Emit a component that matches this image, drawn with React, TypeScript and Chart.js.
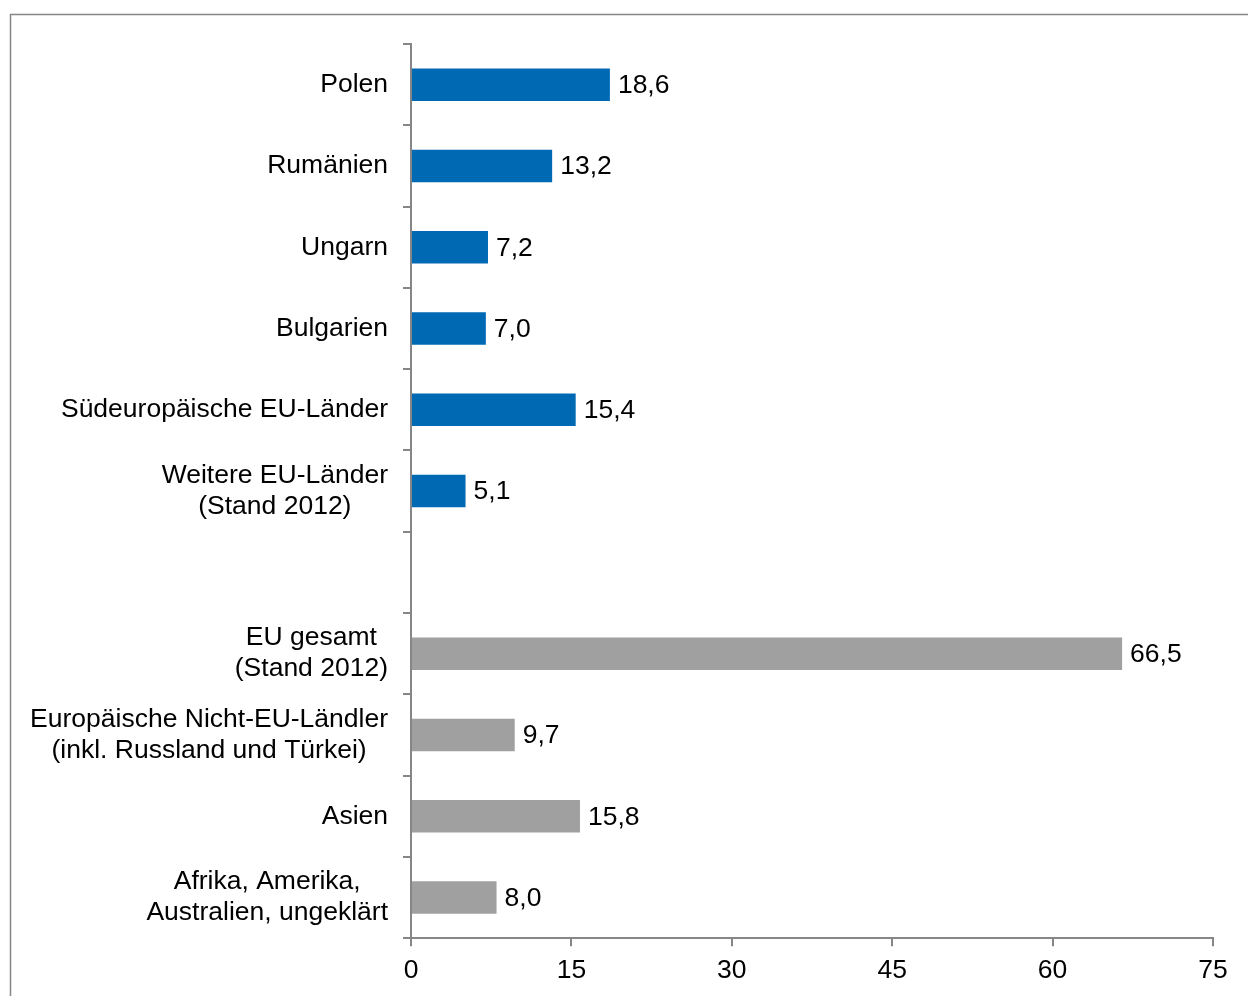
import React, { useEffect, useRef } from "react";
import { Chart, registerables } from "chart.js";

Chart.register(...registerables);

const categories: string[][] = [
  ["Polen"],
  ["Rumänien"],
  ["Ungarn"],
  ["Bulgarien"],
  ["Südeuropäische EU-Länder"],
  ["Weitere EU-Länder", "(Stand 2012)"],
  [""],
  ["EU gesamt", "(Stand 2012)"],
  ["Europäische Nicht-EU-Ländler", "(inkl. Russland und Türkei)"],
  ["Asien"],
  ["Afrika, Amerika,", "Australien, ungeklärt"],
];
const values: (number | null)[] = [18.6, 13.2, 7.2, 7.0, 15.4, 5.1, null, 66.5, 9.7, 15.8, 8.0];
const barColors: string[] = [
  "#0069B4", "#0069B4", "#0069B4", "#0069B4", "#0069B4", "#0069B4",
  "#0069B4", "#A0A0A0", "#A0A0A0", "#A0A0A0", "#A0A0A0",
];
const xTicks: number[] = [0, 15, 30, 45, 60, 75];

const FONT = '"Liberation Sans", Arial, sans-serif';
const FS = 26.5;
const AXIS = "#868686";

const framePlugin = {
  id: "frame",
  beforeDraw(chart: any) {
    const ctx = chart.ctx;
    ctx.save();
    ctx.strokeStyle = AXIS;
    ctx.lineWidth = 1.5;
    ctx.strokeRect(10.5, 14.5, 1400, 1200);
    ctx.restore();
  },
};

const labelsPlugin = {
  id: "customLabels",
  afterDraw(chart: any) {
    const ctx = chart.ctx;
    const yScale = chart.scales.y;
    const xScale = chart.scales.x;
    const meta = chart.getDatasetMeta(0);
    ctx.save();
    ctx.font = `${FS}px ${FONT}`;
    ctx.fillStyle = "#000";
    ctx.textBaseline = "middle";
    const lineH = 31;
    const rightEdge = chart.chartArea.left - 23;
    categories.forEach((lines, i) => {
      const cy = yScale.getPixelForValue(i);
      const widths = lines.map((l) => ctx.measureText(l).width);
      const blockW = Math.max(...widths);
      const center = rightEdge - blockW / 2;
      ctx.textAlign = "center";
      const startY = cy - ((lines.length - 1) * lineH) / 2;
      lines.forEach((l, j) => {
        ctx.fillText(l, center, startY + j * lineH);
      });
    });
    ctx.textAlign = "left";
    values.forEach((v, i) => {
      if (v === null) return;
      const el = meta.data[i];
      const x = xScale.getPixelForValue(v) + 8;
      ctx.fillText(v.toFixed(1).replace(".", ","), x, el.y + 1);
    });
    ctx.restore();
  },
};

export default function App() {
  const ref = useRef<HTMLCanvasElement>(null);
  useEffect(() => {
    if (!ref.current) return;
    const chart = new Chart(ref.current, {
      type: "bar",
      data: {
        labels: categories.map((c) => c.join(" ")),
        datasets: [
          {
            data: values as any,
            backgroundColor: barColors,
            barPercentage: 0.4,
            categoryPercentage: 1,
            borderWidth: 0,
          },
        ],
      },
      options: {
        indexAxis: "y",
        responsive: false,
        animation: false,
        layout: { padding: { left: 403, top: 44, right: 35, bottom: 0 } },
        plugins: { legend: { display: false }, tooltip: { enabled: false }, title: { display: false } },
        scales: {
          x: {
            type: "linear",
            min: 0,
            max: 75,
            afterBuildTicks: (s: any) => {
              s.ticks = xTicks.map((v) => ({ value: v }));
            },
            grid: { drawOnChartArea: false, drawTicks: true, tickLength: 8, color: AXIS, lineWidth: 2 },
            border: { display: true, color: AXIS, width: 2 },
            ticks: { color: "#000", font: { family: FONT, size: FS }, padding: 9, maxRotation: 0 },
          },
          y: {
            type: "category",
            grid: { drawOnChartArea: false, drawTicks: true, tickLength: 8, color: AXIS, lineWidth: 2, offset: true },
            border: { display: true, color: AXIS, width: 2 },
            ticks: { display: false },
          },
        },
      },
      plugins: [framePlugin, labelsPlugin],
    });
    return () => chart.destroy();
  }, []);
  return (
    <div style={{ position: "fixed", left: 0, top: 0, width: 1248, height: 996, background: "#fff" }}>
      <canvas ref={ref} width={1248} height={996} style={{ display: "block" }} />
    </div>
  );
}
